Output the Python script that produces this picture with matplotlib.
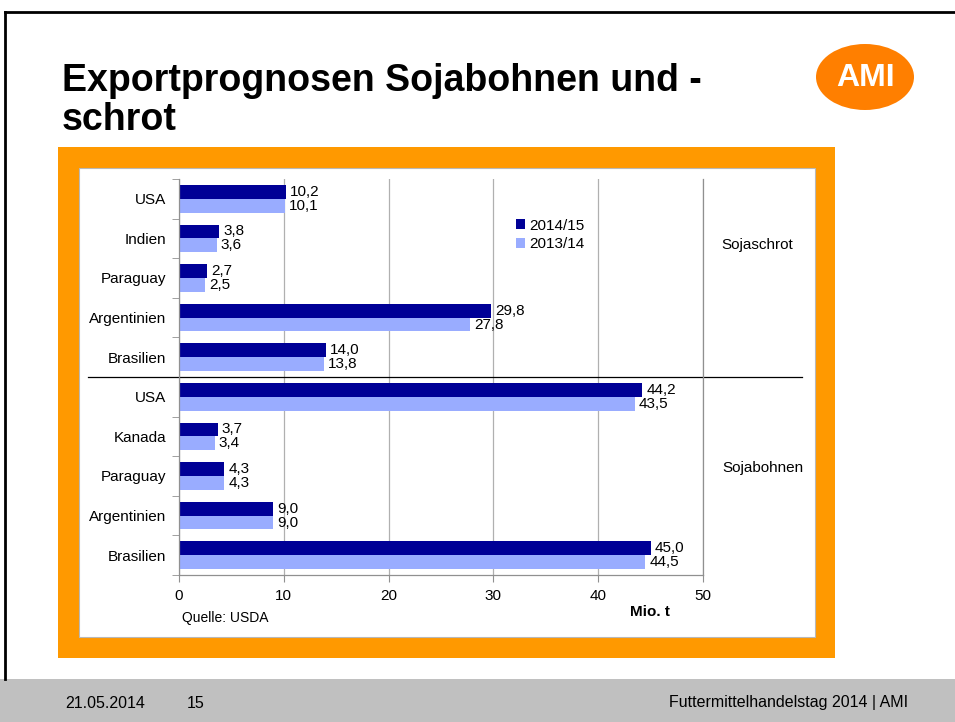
import matplotlib
matplotlib.use("Agg")
import matplotlib.pyplot as plt
import matplotlib.transforms as mtransforms
from matplotlib.patches import Rectangle, Ellipse
from matplotlib.lines import Line2D

# --- data ---
countries = ["USA", "Indien", "Paraguay", "Argentinien", "Brasilien",
             "USA", "Kanada", "Paraguay", "Argentinien", "Brasilien"]
exp_2014_15 = [10.2, 3.8, 2.7, 29.8, 14.0, 44.2, 3.7, 4.3, 9.0, 45.0]
exp_2013_14 = [10.1, 3.6, 2.5, 27.8, 13.8, 43.5, 3.4, 4.3, 9.0, 44.5]
series_names = ["2014/15", "2013/14"]
groups = ["Sojaschrot", "Sojabohnen"]
x_ticks = [0, 10, 20, 30, 40, 50]

DARK = "#000096"
LIGHT = "#99acff"
ORANGE = "#ff9900"
W, H = 955, 722

plt.rcParams["font.family"] = ["Liberation Sans", "DejaVu Sans"]

fig = plt.figure(figsize=(W / 100, H / 100), dpi=100)


def fx(px):
    return px / W


def fy(py):
    return 1 - py / H


# slide decoration (kept behind the axes)
fig.add_artist(Rectangle((0, 0), 1, fy(679), transform=fig.transFigure,
                         facecolor="#c0c0c0", edgecolor="none", zorder=-5))
fig.add_artist(Line2D([fx(5), 1], [fy(12), fy(12)], color="black", lw=2, zorder=-5))
fig.add_artist(Line2D([fx(5), fx(5)], [fy(12), fy(679)], color="black", lw=2, zorder=-5))
fig.add_artist(Rectangle((fx(58), fy(658)), fx(835 - 58), (658 - 147) / H,
                         transform=fig.transFigure, facecolor=ORANGE,
                         edgecolor="none", zorder=-5))
fig.add_artist(Rectangle((fx(79), fy(637)), fx(815 - 79), (637 - 168) / H,
                         transform=fig.transFigure, facecolor="white",
                         edgecolor="#b8b8b8", lw=0.8, zorder=-4))

# title and logo
fig.text(fx(62), fy(91), "Exportprognosen Sojabohnen und -", fontsize=27,
         fontweight="bold", va="baseline", ha="left")
fig.text(fx(62), fy(130), "schrot", fontsize=27, fontweight="bold",
         va="baseline", ha="left")
fig.add_artist(Ellipse((fx(865), fy(77)), fx(98), 66 / H, transform=fig.transFigure,
                       facecolor="#ff7f00", edgecolor="none", zorder=-5))
fig.text(fx(866), fy(78), "AMI", fontsize=23, fontweight="bold", color="white",
         ha="center", va="center")

# footer
fig.text(fx(65), fy(703), "21.05.2014", fontsize=11.5, va="center", ha="left")
fig.text(fx(187), fy(703), "15", fontsize=11.5, va="center", ha="left")
fig.text(fx(908), fy(703), "Futtermittelhandelstag 2014 | AMI", fontsize=11.5,
         va="center", ha="right")

# chart
ax = fig.add_axes([fx(179), fy(575), fx(703 - 179), (575 - 179) / H])
ax.set_zorder(5)
ax.set_facecolor("none")
pos = list(range(len(countries)))
bh = 0.35
b1 = ax.barh([p - bh / 2 for p in pos], exp_2014_15, height=bh, color=DARK,
             label=series_names[0])
b2 = ax.barh([p + bh / 2 for p in pos], exp_2013_14, height=bh, color=LIGHT,
             label=series_names[1])
for bars, vals in ((b1, exp_2014_15), (b2, exp_2013_14)):
    for rect, v in zip(bars, vals):
        ax.annotate(f"{v:.1f}".replace(".", ","),
                    (rect.get_width(), rect.get_y() + rect.get_height() / 2),
                    xytext=(3, 0), textcoords="offset points",
                    va="center", ha="left", fontsize=11)

ax.set_xlim(0, 50)
ax.set_ylim(len(countries) - 0.5, -0.5)
ax.set_xticks(x_ticks)
ax.set_xticklabels([str(t) for t in x_ticks], fontsize=11)
ax.set_yticks(pos)
ax.set_yticklabels(countries, fontsize=11)
ax.set_yticks([p - 0.5 for p in pos] + [len(pos) - 0.5], minor=True)
ax.tick_params(axis="y", which="major", length=0, pad=9)
ax.tick_params(axis="y", which="minor", length=5, color="#909090")
ax.tick_params(axis="x", length=5, color="#909090", pad=5)
ax.grid(axis="x", color="#b0b0b0", lw=0.9)
ax.set_axisbelow(True)
for s in ("left", "bottom", "right"):
    ax.spines[s].set_color("#909090")
    ax.spines[s].set_linewidth(0.9)
ax.spines["top"].set_visible(False)

# separator between the two groups
blend = mtransforms.blended_transform_factory(ax.transAxes, ax.transData)
ax.plot([(88 - 179) / 524, (802 - 179) / 524], [4.5, 4.5], color="black", lw=0.9,
        transform=blend, clip_on=False)
ax.text((757 - 179) / 524, 1.16, groups[0], transform=blend, ha="center",
        va="center", fontsize=11)
ax.text((763 - 179) / 524, 6.8, groups[1], transform=blend, ha="center",
        va="center", fontsize=11)

ax.legend(loc="upper left", bbox_to_anchor=((508 - 179) / 524, 1 - (211 - 179) / 396),
          frameon=False, fontsize=11, handlelength=0.6, handleheight=0.6,
          handletextpad=0.3, labelspacing=0.3, borderpad=0)

fig.text(fx(182), fy(618), "Quelle: USDA", fontsize=10, va="center", ha="left")
fig.text(fx(650), fy(612), "Mio. t", fontsize=11, fontweight="bold",
         va="center", ha="center")

fig.savefig("out.png", dpi=100)
